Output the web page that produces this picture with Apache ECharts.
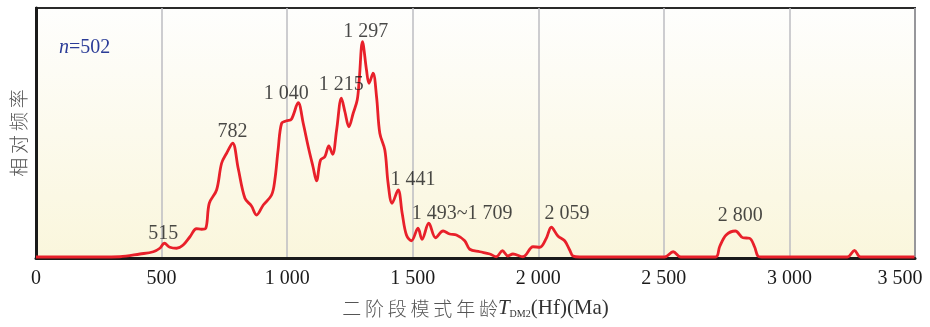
<!DOCTYPE html>
<html>
<head>
<meta charset="utf-8">
<script src="https://cdn.jsdelivr.net/npm/echarts@6/dist/echarts.min.js"></script>
<style>
  html, body { margin: 0; padding: 0; background: #ffffff; }
  #chart { width: 930px; height: 327px; }
</style>
</head>
<body>
<div id="chart"></div>
<script>
// Two-stage Hf model age (TDM2) probability density, n = 502
const ages = [0, 255, 334, 414, 467, 493, 511, 533, 560, 586, 613, 639, 659, 676, 690, 719, 739, 759, 783, 805,
  832, 858, 878, 905, 938, 951, 964, 978, 998, 1017, 1044, 1064, 1084, 1103, 1117, 1133, 1150, 1166, 1181, 1197,
  1216, 1230, 1246, 1263, 1279, 1287, 1300, 1316, 1326, 1342, 1356, 1369, 1389, 1402, 1418, 1442, 1458, 1475, 1495,
  1521, 1537, 1564, 1591, 1621, 1647, 1674, 1707, 1727, 1767, 1807, 1833, 1857, 1879, 1899, 1939, 1979, 2006, 2032,
  2052, 2078, 2105, 2125, 2138, 2165, 2503, 2537, 2567, 2706, 2722, 2748, 2785, 2815, 2841, 2861, 2874, 2889,
  3231, 3259, 3283, 3498];
const freq = [0.4, 0.4, 0.5, 1.6, 2.5, 3.9, 5.9, 4.3, 3.9, 5.2, 8.5, 11.7, 11.5, 11.9, 21.9, 27.2, 37.9, 41.9, 45.9, 35.9,
  23.9, 20.8, 17.2, 21.2, 25.2, 31.2, 43.2, 53.9, 54.9, 55.5, 62.1, 53.9, 44.5, 36.5, 30.9, 39.2, 40.5, 44.8, 41.5, 51.2,
  63.9, 58.5, 52.5, 57.9, 63.2, 71.2, 86.5, 75.2, 69.9, 73.9, 64.5, 49.9, 43.2, 29.9, 21.9, 27.2, 17.9, 9.2, 6.9,
  11.9, 7.5, 13.9, 8.1, 10.8, 9.6, 9.2, 6.9, 3.5, 2.5, 1.6, 0.5, 2.9, 0.8, 1.6, 0.5, 4.5, 4.3, 7.9,
  12.3, 8.8, 6.9, 3.2, 0.8, 0.4, 0.4, 2.5, 0.4, 0.4, 4.5, 9.2, 10.8, 8.1, 7.9, 4.5, 0.8, 0.4,
  0.4, 3.0, 0.4, 0.4];

// Peak annotations: text and the age range it refers to
const peakTexts = ['515', '782', '1 040', '1 215', '1 297', '1 441', '1 493~1 709', '2 059', '2 800'];
const peakFrom  = [515, 782, 1040, 1215, 1297, 1441, 1493, 2059, 2800];
const peakTo    = [515, 782, 1040, 1215, 1297, 1441, 1709, 2059, 2800];

const xMin = 0, xMax = 3500, xStep = 500;
const sampleText = '502';

// label placement relative to the peak (pixels)
const peakOffsets = [[-2, -10], [0, -12], [-11, -9], [0, -14], [4, -10], [15, -10], [24, -10], [14, -14], [1, -15]];

function peakValue(a, b) {
  let best = 0;
  for (let i = 0; i < ages.length; i++) {
    if (ages[i] >= a - 25 && ages[i] <= b + 25) best = Math.max(best, freq[i]);
  }
  return best;
}

function fmtAge(v) {
  const s = v >= 1000 ? Math.floor(v / 1000) + ' ' + String(v % 1000).padStart(3, '0') : String(v);
  // the last tick label is pulled inwards so it stays on the canvas
  return v === xMax ? '{last|' + s + '}' : s;
}

const curve = ages.map((a, i) => [a, freq[i]]);
const peakPoints = peakTexts.map((t, i) => ({
  value: [(peakFrom[i] + peakTo[i]) / 2, peakValue(peakFrom[i], peakTo[i])],
  label: { formatter: t, offset: peakOffsets[i] }
}));

const serif = '"Liberation Serif", "Times New Roman", serif';
const cjk = '"Noto Sans CJK SC", sans-serif';

const chart = echarts.init(document.getElementById('chart'), null, { renderer: 'canvas' });
chart.setOption({
  animation: false,
  title: {
    left: 54, top: 33,
    text: '{i|n}{r|=' + sampleText + '}',
    textStyle: {
      fontWeight: 'normal',
      rich: {
        i: { fontFamily: serif, fontStyle: 'italic', fontWeight: 'normal', fontSize: 20, color: '#2b3c97' },
        r: { fontFamily: serif, fontWeight: 'normal', fontSize: 20, color: '#2b3c97' }
      }
    }
  },
  grid: {
    left: 36, right: 15, top: 8, bottom: 69,
    outerBoundsMode: 'none',
    containLabel: false,
    show: true,
    borderColor: '#2a2a2a', borderWidth: 2,
    backgroundColor: new echarts.graphic.LinearGradient(0, 0, 0, 1, [
      { offset: 0, color: '#fefefd' },
      { offset: 1, color: '#faf6dc' }
    ])
  },
  xAxis: {
    type: 'value', min: xMin, max: xMax, interval: xStep,
    axisLine: { show: true, lineStyle: { color: '#1a1a1a', width: 3 } },
    axisTick: { show: false },
    axisLabel: {
      margin: 11, fontFamily: serif, fontSize: 20, color: '#1a1a1a', formatter: fmtAge,
      rich: { last: { fontFamily: serif, fontSize: 20, color: '#1a1a1a', padding: [0, 30, 0, 0] } }
    },
    splitLine: { show: true, lineStyle: { color: '#bdbdc2', width: 1.5 } },
    name: '{c|二\u2009阶\u2009段\u2009模\u2009式\u2009年\u2009龄}{t|T}{s|DM2}{p|(Hf)(Ma)}',
    nameLocation: 'middle', nameGap: 40,
    nameTextStyle: {
      rich: {
        c: { fontFamily: cjk, fontSize: 19, fontWeight: 300, color: '#555' },
        t: { fontFamily: serif, fontStyle: 'italic', fontSize: 21, color: '#333' },
        s: { fontFamily: serif, fontSize: 10, color: '#333', verticalAlign: 'bottom', padding: [8, 0, 0, 0] },
        p: { fontFamily: serif, fontSize: 21, color: '#333' }
      }
    }
  },
  yAxis: {
    type: 'value', min: 0, max: 100,
    axisLine: { show: true, lineStyle: { color: '#1a1a1a', width: 3 } },
    axisTick: { show: false },
    axisLabel: { show: false },
    splitLine: { show: false },
    name: '相\u2009对\u2009频\u2009率',
    nameLocation: 'middle', nameGap: 8, nameRotate: 90,
    nameTextStyle: { fontFamily: cjk, fontSize: 19, fontWeight: 300, color: '#555' }
  },
  series: [
    {
      type: 'line',
      data: curve,
      smooth: 0.35,
      showSymbol: false,
      lineStyle: { color: '#e8202a', width: 2.8 },
      z: 3
    },
    {
      type: 'scatter',
      data: peakPoints,
      symbolSize: 0,
      label: {
        show: true, position: 'inside',
        fontFamily: serif, fontSize: 20, color: '#1a1a1a'
      },
      z: 4
    }
  ]
});
</script>
</body>
</html>
